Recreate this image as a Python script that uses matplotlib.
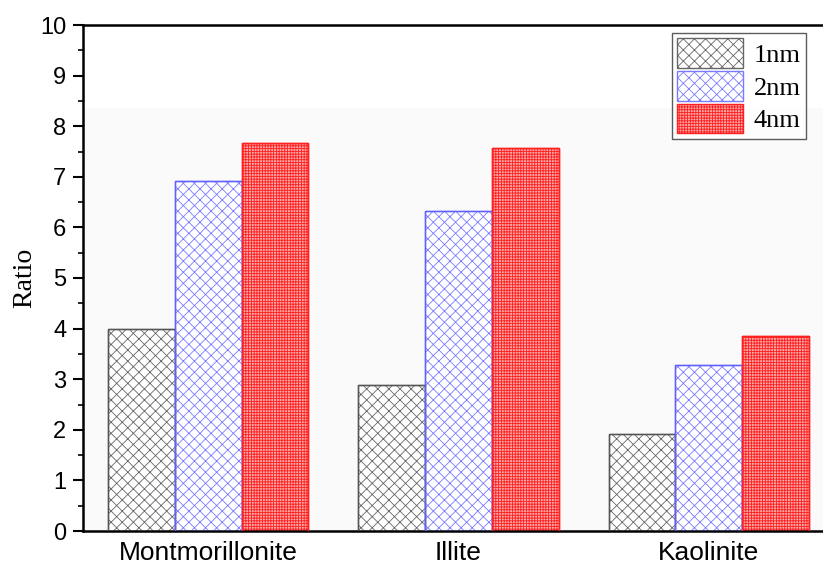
import matplotlib
matplotlib.use("Agg")
import matplotlib.pyplot as plt
import numpy as np
from matplotlib.ticker import MultipleLocator

categories = ["Montmorillonite", "Illite", "Kaolinite"]
series_names = ["1nm", "2nm", "4nm"]
v_1nm = [4.0, 2.88, 1.92]
v_2nm = [6.92, 6.32, 3.29]
v_4nm = [7.67, 7.57, 3.86]
values = [v_1nm, v_2nm, v_4nm]

styles = [
    dict(facecolor="white", edgecolor="#666666", hatch="xxx"),
    dict(facecolor="white", edgecolor="#7a7aff", hatch="xxx"),
    dict(facecolor="#ffa8a8", edgecolor="#ff2020", hatch="++++++"),
]
outline = ["#555555", "#6060ff", "#ff2020"]

plt.rcParams["hatch.linewidth"] = 0.6
fig = plt.figure(figsize=(8.23, 5.65), dpi=100)
ax = fig.add_axes([83/823, 34/565, 751/823, 506/565])
ax.axhspan(0, 8.35, color="#fafafa", zorder=0, lw=0)

x = np.arange(len(categories))
w = 0.267
for i, (name, vals) in enumerate(zip(series_names, values)):
    ax.bar(x + (i - 1) * w, vals, width=w, label=name, linewidth=1.0,
           zorder=2, **styles[i])
    ax.bar(x + (i - 1) * w, vals, width=w, facecolor="none",
           edgecolor=outline[i], linewidth=1.0, zorder=3)

ax.set_xlim(-0.5, 2.5)
ax.set_ylim(0, 10)
ax.yaxis.set_major_locator(MultipleLocator(1))
ax.yaxis.set_minor_locator(MultipleLocator(0.5))
ax.set_xticks(x)
ax.set_xticklabels(categories, fontsize=19, family="Liberation Sans")
ax.tick_params(axis="x", length=0, pad=7)
ax.tick_params(axis="y", which="major", length=7, width=1.5, labelsize=17, pad=5)
ax.tick_params(axis="y", which="minor", length=3.5, width=1.2)
for lab in ax.get_yticklabels():
    lab.set_family("Liberation Sans")
ax.set_ylabel("Ratio", fontsize=20, family="Liberation Serif", labelpad=2)
for s in ["left", "bottom", "top", "right"]:
    ax.spines[s].set_linewidth(1.8)

leg = ax.legend(loc="upper right", bbox_to_anchor=(806/823, 1 - 33/565),
                bbox_transform=fig.transFigure,
                prop={"family": "Liberation Serif", "size": 19},
                frameon=True, fancybox=False, edgecolor="#333333",
                handlelength=2.5, handleheight=1.35, labelspacing=0.12,
                borderpad=0.2, handletextpad=0.4, borderaxespad=0)
leg.get_frame().set_linewidth(1.0)

fig.savefig("out.png", dpi=100)
